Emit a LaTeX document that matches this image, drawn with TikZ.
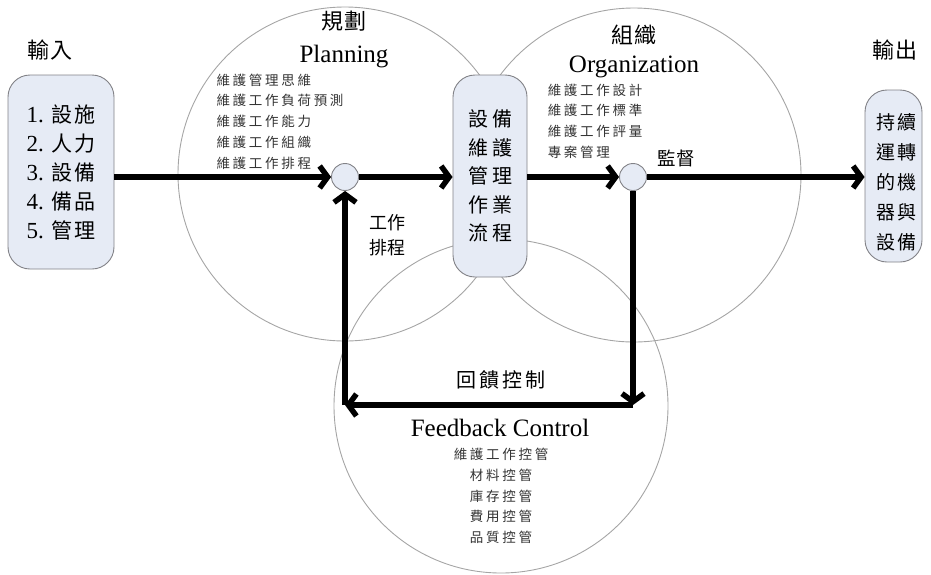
\documentclass[tikz,border=0pt]{standalone}
\usepackage{fontspec}
\setmainfont{Liberation Serif}
\newfontfamily\cjk{Noto Sans CJK TC}
\usetikzlibrary{arrows.meta}
\definecolor{boxfill}{RGB}{230,235,245}
\definecolor{ringgray}{RGB}{165,165,165}
\definecolor{edgegray}{RGB}{130,130,135}
\newcommand{\itemnum}[1]{{\fontsize{23}{29}\selectfont\textrm{#1.}}\hspace{8pt}}
\begin{document}
\begin{tikzpicture}[x=1pt,y=-1pt,
  ring/.style={draw=ringgray, line width=0.9pt},
  procbox/.style={draw=edgegray, fill=boxfill, rounded corners=22pt, line width=0.9pt, inner sep=0pt},
  junction/.style={circle, draw=edgegray, fill=boxfill, minimum size=27pt, inner sep=0pt, line width=0.9pt},
  flow/.style={line width=5.5pt, -{Straight Barb[length=8pt,width=22pt]}},
  head/.style={font=\cjk\fontsize{22}{24}\selectfont\addfontfeature{LetterSpace=8}},
  title/.style={font=\cjk\fontsize{22}{24}\selectfont\addfontfeature{LetterSpace=6}},
  english/.style={font=\fontsize{25}{28}\selectfont, anchor=base},
  tasklist/.style={font=\cjk\fontsize{13.5}{20.7}\selectfont\addfontfeature{LetterSpace=20}, text=black!80, inner sep=0pt},
  boxtext/.style={font=\cjk\fontsize{20}{28.5}\selectfont, align=center, inner sep=0pt},
  label/.style={font=\cjk\fontsize{18.5}{25}\selectfont, inner sep=0pt},
]
\useasboundingbox (0,0) rectangle (931,574);

% the three overlapping function circles
\draw[ring] (345,174) circle[radius=167pt];
\draw[ring] (634,175) circle[radius=167pt];
\draw[ring] (501,406) circle[radius=167pt];

% input / process / output boxes
\node[procbox, minimum width=106pt, minimum height=194pt, boxtext, align=left,
      font=\cjk\fontsize{21}{29}\selectfont\addfontfeature{LetterSpace=6}] (lbox) at (61,172)
  {\itemnum{1}設施\\ \itemnum{2}人力\\ \itemnum{3}設備\\ \itemnum{4}備品\\ \itemnum{5}管理};
\node[procbox, minimum width=74pt, minimum height=202pt, boxtext] (mbox) at (490,176)
  {設\hspace{4pt}備\\ 維\hspace{4pt}護\\ 管\hspace{4pt}理\\ 作\hspace{4pt}業\\ 流\hspace{4pt}程};
\node[procbox, minimum width=57pt, minimum height=172pt] (rbox) at (893.5,176) {};
\node[boxtext, font=\cjk\fontsize{19}{30}\selectfont] (rtext) at (896,182)
  {持\hspace{2pt}續\\ 運\hspace{2pt}轉\\ 的\hspace{2pt}機\\ 器\hspace{2pt}與\\ 設\hspace{2pt}備};

% junction points
\node[junction] (j1) at (345,177) {};
\node[junction] (j2) at (633,177) {};
\coordinate (br) at (633,405);
\coordinate (bl) at (345,405);

% headings
\node[head] (inhead) at (50,50) {輸入};
\node[head] (outhead) at (895,50) {輸出};
\node[title] (plantitle) at (344,21) {規劃};
\node[english] (planen) at (344,62) {Planning};
\node[title] (orgtitle) at (634,35) {組織};
\node[english] (orgen) at (634,72) {Organization};
\node[english] (fben) at (500,436) {Feedback Control};

% task lists
\node[tasklist, align=left] (planlist) at (280,121.5)
  {維護管理思維\\ 維護工作負荷預測\\ 維護工作能力\\ 維護工作組織\\ 維護工作排程};
\node[tasklist, align=left] (orglist) at (595,121)
  {維護工作設計\\ 維護工作標準\\ 維護工作評量\\ 專案管理};
\node[tasklist, align=center] (fblist) at (501,496)
  {維護工作控管\\ 材料控管\\ 庫存控管\\ 費用控管\\ 品質控管};

% connector labels
\node[label] (monitor) at (676,158) {監督};
\node[label, align=center, font=\cjk\fontsize{18}{25}\selectfont] (sched) at (387,235.5) {工作\\排程};
\node[label, font=\cjk\fontsize{20}{24}\selectfont\addfontfeature{LetterSpace=15}] (fbctrl) at (501,380) {回饋控制};

% main flow
\draw[flow] (lbox.east |- j1) -- (j1);
\draw[flow] (j1) -- (j1 -| mbox.west);
\draw[flow] (j2 -| mbox.east) -- (j2);
\draw[flow] (j2) -- (j2 -| rbox.west);

% feedback loop
\draw[flow] (j2) -- (br);
\draw[flow] (br) -- (bl);
\draw[flow] (bl) -- (j1);
\end{tikzpicture}
\end{document}
